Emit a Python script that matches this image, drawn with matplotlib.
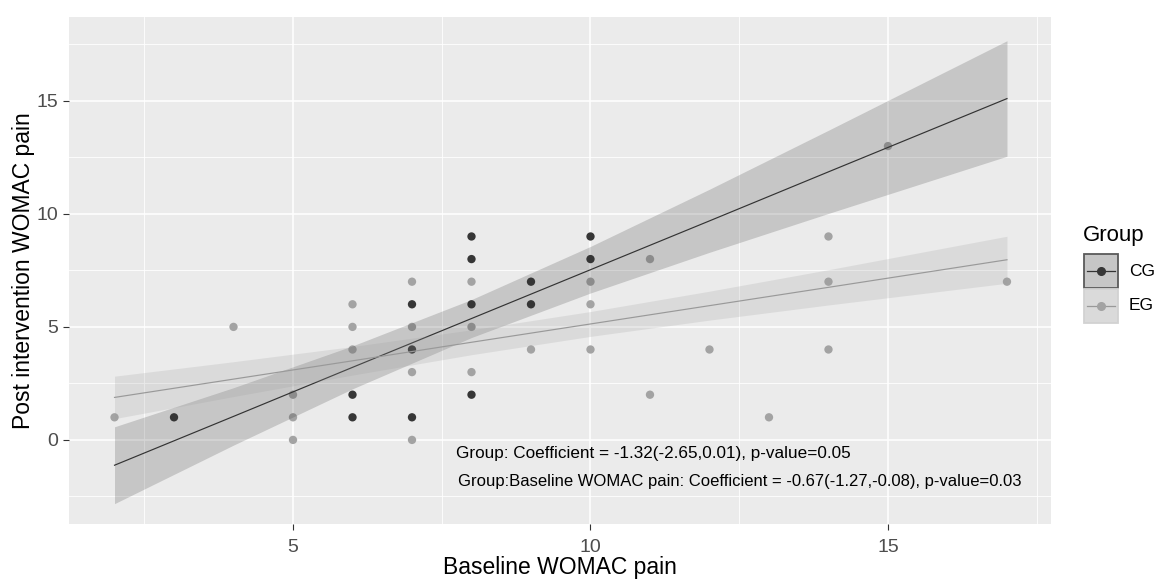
import matplotlib
matplotlib.use("Agg")
import matplotlib.pyplot as plt
from matplotlib.patches import Rectangle
from matplotlib.lines import Line2D

plt.rcParams["font.family"] = ["Liberation Sans", "DejaVu Sans"]

# Observations per group (baseline vs post-intervention WOMAC pain)
cg_x = [3, 6, 6, 7, 7, 7, 8, 8, 8, 8, 9, 9, 10, 10]
cg_y = [1, 2, 1, 6, 4, 1, 9, 8, 6, 2, 7, 6, 9, 8]
eg_x = [2, 4, 5, 5, 5, 6, 6, 6, 7, 7, 7, 7, 8, 8, 8, 9, 10, 10, 10,
        11, 11, 12, 13, 14, 14, 14, 15, 17]
eg_y = [1, 5, 2, 1, 0, 6, 5, 4, 7, 5, 3, 0, 7, 5, 3, 4, 7, 6, 4,
        8, 2, 4, 1, 9, 7, 4, 13, 7]

# Fitted lines with 95% confidence bands
fit_x = [2, 4, 6, 8, 10, 12, 14, 17]
cg_fit = [-1.12, 1.04, 3.21, 5.37, 7.53, 9.69, 11.86, 15.10]
cg_lo = [-2.82, -0.23, 2.26, 4.53, 6.50, 8.30, 10.02, 12.55]
cg_hi = [0.58, 2.31, 4.16, 6.21, 8.56, 11.09, 13.70, 17.66]
eg_fit = [1.88, 2.69, 3.50, 4.32, 5.13, 5.94, 6.75, 7.97]
eg_lo = [0.94, 1.92, 2.87, 3.77, 4.58, 5.30, 5.97, 6.93]
eg_hi = [2.82, 3.46, 4.13, 4.87, 5.68, 6.58, 7.53, 9.01]

groups = ["CG", "EG"]
x_ticks = [5, 10, 15]
y_ticks = [0, 5, 10, 15]
notes = [
    "Group: Coefficient = -1.32(-2.65,0.01), p-value=0.05",
    "Group:Baseline WOMAC pain: Coefficient = -0.67(-1.27,-0.08), p-value=0.03",
]

CG_COL = "#333333"
EG_COL = "#999999"
CG_PT = "#363636"
EG_PT = "#A3A3A3"

W, H = 1156, 581
fig = plt.figure(figsize=(W / 100, H / 100), dpi=100)
ax = fig.add_axes([69 / W, 1 - 524 / H, (1051 - 69) / W, (524 - 17) / H])
ax.set_facecolor("#EBEBEB")
ax.set_xlim(1.235, 17.74)
ax.set_ylim(-3.72, 18.71)

# grid
for v in [2.5, 7.5, 12.5, 17.5]:
    ax.axvline(v, color="white", lw=0.6, zorder=0.5)
for v in [-2.5, 2.5, 7.5, 12.5, 17.5]:
    ax.axhline(v, color="white", lw=0.6, zorder=0.5)
for v in x_ticks:
    ax.axvline(v, color="white", lw=1.1, zorder=0.6)
for v in y_ticks:
    ax.axhline(v, color="white", lw=1.1, zorder=0.6)

# points
ax.scatter(cg_x, cg_y, s=36, color=CG_PT, edgecolors="none", zorder=2)
ax.scatter(eg_x, eg_y, s=36, color=EG_PT, edgecolors="none", zorder=2)

# smooths: ribbon then line per group
ax.fill_between(fit_x, cg_lo, cg_hi, color=CG_COL, alpha=0.2, lw=0, zorder=3)
ax.plot(fit_x, cg_fit, color=CG_COL, lw=0.85, zorder=3.1)
ax.fill_between(fit_x, eg_lo, eg_hi, color=EG_COL, alpha=0.2, lw=0, zorder=3.2)
ax.plot(fit_x, eg_fit, color=EG_COL, lw=0.85, zorder=3.3)

# annotations
ax.text(7.74, -0.62, notes[0], fontsize=12.3, color="black", ha="left", va="center", zorder=4)
ax.text(7.77, -1.86, notes[1], fontsize=12, color="black", ha="left", va="center", zorder=4)

for s in ax.spines.values():
    s.set_visible(False)
ax.set_xticks(x_ticks)
ax.set_yticks(y_ticks)
ax.tick_params(axis="both", length=4, width=0.8, color="#333333",
               labelcolor="#4D4D4D", labelsize=14)
ax.tick_params(axis="x", pad=7)
ax.tick_params(axis="y", pad=4)
ax.set_xlabel("Baseline WOMAC pain", fontsize=16.5, color="black", labelpad=0)
ax.set_ylabel("Post intervention WOMAC pain", fontsize=16.5, color="black", labelpad=1)

# legend
def fx(px):
    return px / W

def fy(py):
    return 1 - py / H

fig.text(fx(1083), fy(235), "Group", fontsize=16, ha="left", va="center")
keys = [(254, CG_COL, CG_PT, "#5A5A5A"), (289, EG_COL, EG_PT, "#D2D2D2")]
for (top, col, pt, edge), name in zip(keys, groups):
    fig.add_artist(Rectangle((fx(1084), fy(top + 34)), 34 / W, 34 / H,
                             transform=fig.transFigure, facecolor="#EBEBEB",
                             edgecolor="none"))
    fig.add_artist(Rectangle((fx(1084), fy(top + 34)), 34 / W, 34 / H,
                             transform=fig.transFigure, facecolor=col, alpha=0.2,
                             edgecolor="none"))
    fig.add_artist(Rectangle((fx(1084), fy(top + 34)), 34 / W, 34 / H,
                             transform=fig.transFigure, facecolor="none",
                             edgecolor=edge, lw=1.3))
    fig.add_artist(Line2D([fx(1087), fx(1115)], [fy(top + 17)] * 2,
                          transform=fig.transFigure, color=col, lw=0.9))
    fig.add_artist(Line2D([fx(1101)], [fy(top + 17)], transform=fig.transFigure,
                          color=pt, marker="o", markersize=5.5, lw=0))
    fig.text(fx(1129), fy(top + 17), name, fontsize=12.5, ha="left", va="center")

fig.savefig("out.png", dpi=100)
